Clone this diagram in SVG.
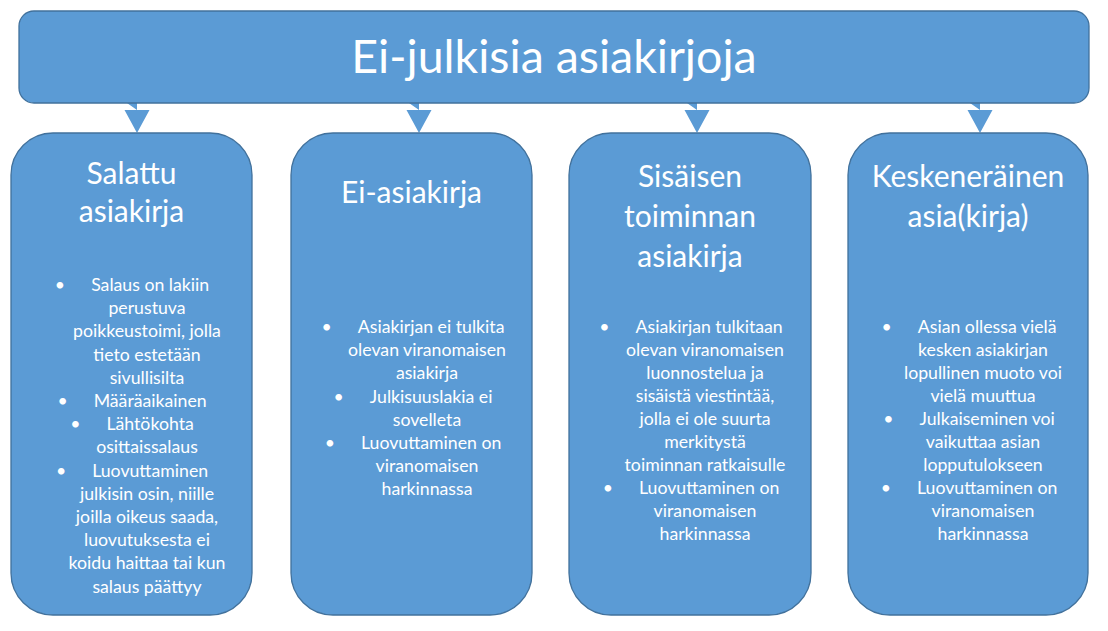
<svg xmlns="http://www.w3.org/2000/svg" width="1108" height="631" viewBox="0 0 1108 631">
<style>
.box{fill:#5B9BD5;stroke:#41719C;stroke-width:1.3}
.arr{fill:#5B9BD5}
text{fill:#FFFFFF;font-family:Lato,"Noto Sans",sans-serif;text-anchor:middle}
.title{font-size:46.5px}
.head{font-size:30px}
.body{font-size:17.7px}
</style>
<rect width="1108" height="631" fill="#FFFFFF"/>
<g id="connectors">
<path class="arr" d="M127,103h10v7h12.5l-12.5,23l-12.5,-23h12.5z"/>
<path class="arr" d="M409,103h10v7h12.5l-12.5,23l-12.5,-23h12.5z"/>
<path class="arr" d="M687,103h10v7h12.5l-12.5,23l-12.5,-23h12.5z"/>
<path class="arr" d="M970,103h10v7h12.5l-12.5,23l-12.5,-23h12.5z"/>
</g>
<g id="root">
<rect class="box" x="19" y="11" width="1070" height="92" rx="15" ry="15"/>
<text class="title" x="554" y="73">Ei-julkisia asiakirjoja</text>
</g>
<g id="salattu">
<rect class="box" x="11" y="133" width="241" height="482" rx="42" ry="42"/>
<text class="head" x="131.5" y="184">Salattu</text>
<text class="head" x="131.5" y="222">asiakirja</text>
<g class="body">
<text x="132" y="291">•<tspan dx="26">Salaus on lakiin</tspan></text>
<text x="147" y="314.2">perustuva</text>
<text x="147" y="337.4">poikkeustoimi, jolla</text>
<text x="147" y="360.6">tieto estetään</text>
<text x="147" y="383.8">sivullisilta</text>
<text x="132" y="407">•<tspan dx="26">Määräaikainen</tspan></text>
<text x="132" y="430.2">•<tspan dx="26">Lähtökohta</tspan></text>
<text x="147" y="453.4">osittaissalaus</text>
<text x="132" y="476.6">•<tspan dx="26">Luovuttaminen</tspan></text>
<text x="147" y="499.8">julkisin osin, niille</text>
<text x="147" y="523">joilla oikeus saada,</text>
<text x="147" y="546.2">luovutuksesta ei</text>
<text x="147" y="569.4">koidu haittaa tai kun</text>
<text x="147" y="592.6">salaus päättyy</text>
</g>
</g>
<g id="ei-asiakirja">
<rect class="box" x="291" y="133" width="241" height="482" rx="42" ry="42"/>
<text class="head" x="411.5" y="203">Ei-asiakirja</text>
<g class="body">
<text x="413" y="333">•<tspan dx="26">Asiakirjan ei tulkita</tspan></text>
<text x="427" y="356.2">olevan viranomaisen</text>
<text x="427" y="379.4">asiakirja</text>
<text x="413" y="402.6">•<tspan dx="26">Julkisuuslakia ei</tspan></text>
<text x="427" y="425.8">sovelleta</text>
<text x="413" y="449">•<tspan dx="26">Luovuttaminen on</tspan></text>
<text x="427" y="472.2">viranomaisen</text>
<text x="427" y="495.4">harkinnassa</text>
</g>
</g>
<g id="sisaisen">
<rect class="box" x="569" y="133" width="242" height="482" rx="42" ry="42"/>
<text class="head" x="690" y="187">Sisäisen</text>
<text class="head" x="690" y="227">toiminnan</text>
<text class="head" x="690" y="267">asiakirja</text>
<g class="body">
<text x="691" y="333">•<tspan dx="26">Asiakirjan tulkitaan</tspan></text>
<text x="705" y="356">olevan viranomaisen</text>
<text x="705" y="379">luonnostelua ja</text>
<text x="705" y="402">sisäistä viestintää,</text>
<text x="705" y="425">jolla ei ole suurta</text>
<text x="705" y="448">merkitystä</text>
<text x="705" y="471">toiminnan ratkaisulle</text>
<text x="691" y="494">•<tspan dx="26">Luovuttaminen on</tspan></text>
<text x="705" y="517">viranomaisen</text>
<text x="705" y="540">harkinnassa</text>
</g>
</g>
<g id="keskenerainen">
<rect class="box" x="848" y="133" width="240" height="482" rx="42" ry="42"/>
<text class="head" x="968" y="187">Keskeneräinen</text>
<text class="head" x="968" y="226.5">asia(kirja)</text>
<g class="body">
<text x="969" y="333">•<tspan dx="26">Asian ollessa vielä</tspan></text>
<text x="983" y="356">kesken asiakirjan</text>
<text x="983" y="379">lopullinen muoto voi</text>
<text x="983" y="402">vielä muuttua</text>
<text x="969" y="425">•<tspan dx="26">Julkaiseminen voi</tspan></text>
<text x="983" y="448">vaikuttaa asian</text>
<text x="983" y="471">lopputulokseen</text>
<text x="969" y="494">•<tspan dx="26">Luovuttaminen on</tspan></text>
<text x="983" y="517">viranomaisen</text>
<text x="983" y="540">harkinnassa</text>
</g>
</g>
</svg>
